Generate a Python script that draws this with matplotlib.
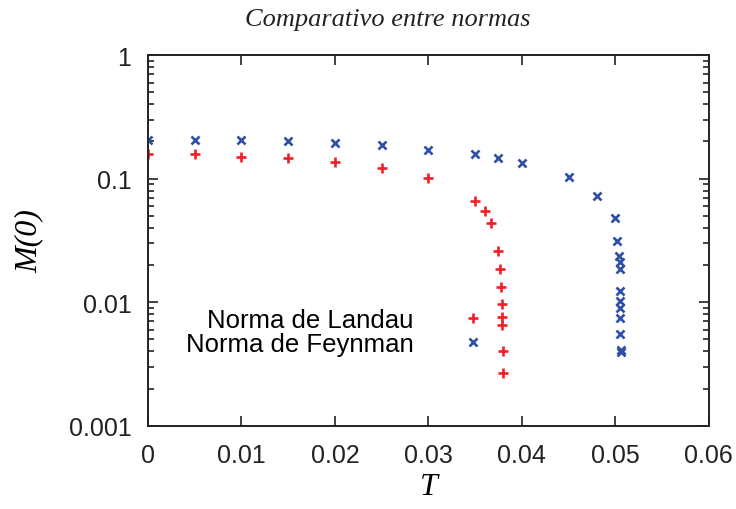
import matplotlib
matplotlib.use("Agg")
import matplotlib.pyplot as plt
from matplotlib.ticker import FixedLocator, LogLocator, NullFormatter

# Norma de Landau (+)
t_landau = [0.0, 0.005, 0.01, 0.015, 0.02, 0.025, 0.03,
            0.0350, 0.0361, 0.0367, 0.0375, 0.0377, 0.0378,
            0.0379, 0.0379, 0.0379, 0.0380, 0.0380]
m_landau = [0.159, 0.157, 0.151, 0.146, 0.136, 0.123, 0.101,
            0.0665, 0.0549, 0.0442, 0.0261, 0.0187, 0.0134,
            0.00964, 0.00767, 0.00649, 0.0040, 0.00269]

# Norma de Feynman (x)
t_feyn = [0.0, 0.005, 0.01, 0.015, 0.02, 0.025, 0.03,
          0.035, 0.0375, 0.04, 0.045, 0.048, 0.050,
          0.0502, 0.0504, 0.0505, 0.0505, 0.0505, 0.0505,
          0.0505, 0.0505, 0.0505, 0.0506, 0.0506]
m_feyn = [0.207, 0.207, 0.205, 0.200, 0.194, 0.186, 0.172,
          0.157, 0.147, 0.135, 0.103, 0.072, 0.0482,
          0.0316, 0.0239, 0.0210, 0.0185, 0.0123, 0.0102,
          0.00895, 0.00743, 0.00552, 0.00410, 0.00395]

x_ticks = [0, 0.01, 0.02, 0.03, 0.04, 0.05, 0.06]
x_labels = ["0", "0.01", "0.02", "0.03", "0.04", "0.05", "0.06"]
y_ticks = [0.001, 0.01, 0.1, 1]
y_labels = ["0.001", "0.01", "0.1", "1"]

plt.rcParams["font.family"] = ["Liberation Sans", "DejaVu Sans"]

fig = plt.figure(figsize=(7.36, 5.10), dpi=100)
ax = fig.add_axes([0.201, 0.163, 0.762, 0.727])

ax.plot(t_landau, m_landau, linestyle="none", marker="+", color="#f0202a",
        markersize=7, markeredgewidth=1.9, label="Norma de Landau")
ax.plot(t_feyn, m_feyn, linestyle="none", marker="x", color="#2f4fa6",
        markersize=6, markeredgewidth=1.9, label="Norma de Feynman")

ax.set_yscale("log")
ax.set_xlim(0, 0.06)
ax.set_ylim(0.001, 1)

ax.xaxis.set_major_locator(FixedLocator(x_ticks))
ax.set_xticklabels(x_labels)
ax.yaxis.set_major_locator(FixedLocator(y_ticks))
ax.set_yticklabels(y_labels)
ax.yaxis.set_minor_locator(LogLocator(base=10, subs=range(2, 10)))
ax.yaxis.set_minor_formatter(NullFormatter())

ax.tick_params(which="both", direction="in", top=True, right=True,
               labelsize=18, colors="#222222", width=1.2)
ax.tick_params(which="major", length=7, pad=12)
ax.tick_params(which="minor", length=4)
for s in ax.spines.values():
    s.set_linewidth(1.4)
    s.set_color("#222222")

serif = ["Liberation Serif", "DejaVu Serif"]
ax.set_xlabel("T", fontsize=23, family=serif, style="italic", labelpad=4)
ax.set_ylabel("M(0)", fontsize=23, family=serif, style="italic", labelpad=18)
fig.text(0.527, 1 - 20 / 510, "Comparativo entre normas", fontsize=19,
         family=serif, style="italic", ha="center", va="center",
         color="#222222")

ax.legend(loc="upper right", bbox_to_anchor=(0.643, 0.345), frameon=False,
          markerfirst=False, fontsize=18.5, labelspacing=0.0,
          handlelength=2.0, handletextpad=1.3, borderaxespad=0)

fig.savefig("out.png", dpi=100)
